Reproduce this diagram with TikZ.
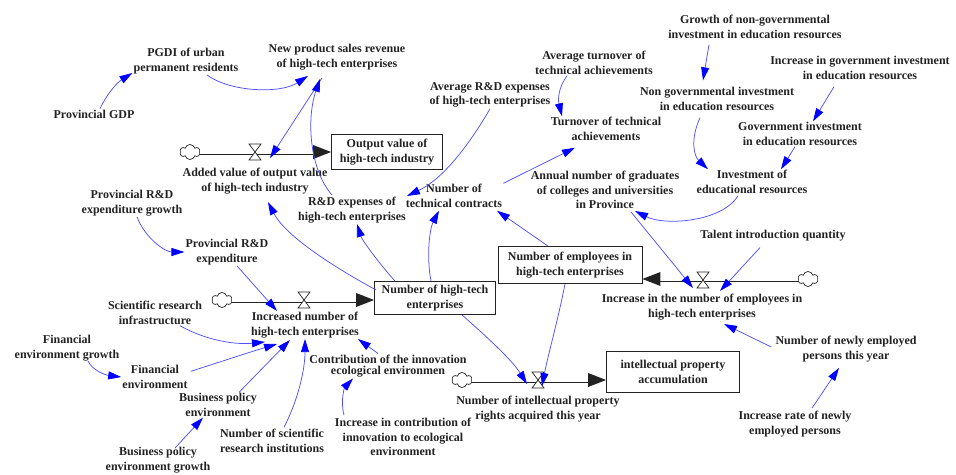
\documentclass[tikz,border=0pt]{standalone}
\usepackage{fontspec}
\setmainfont{Liberation Serif}
\usetikzlibrary{arrows.meta,calc,shapes.symbols}
\definecolor{lnk}{RGB}{80,80,250}
\definecolor{tipc}{RGB}{0,0,255}
\definecolor{txt}{RGB}{34,34,34}
\begin{document}
\begin{tikzpicture}[x=1pt,y=-1pt,
  lbl/.style={align=center,inner sep=1pt,text=txt,font=\fontsize{12}{14.5}\selectfont\bfseries},
  stockbox/.style={lbl,draw=txt,line width=0.8pt,fill=white,inner sep=3pt},
  link/.style={draw=lnk,line width=0.75pt,-{Triangle[length=13pt,width=8pt,color=tipc]}},
  pipe/.style={draw=txt,double=white,double distance=3.2pt,line width=0.9pt},
  src/.style={cloud,draw=txt,fill=white,cloud puffs=6,aspect=1.4,minimum width=20pt,minimum height=15pt,inner sep=0pt,line width=0.7pt},
  valve/.pic={\draw[txt,fill=white,line width=0.7pt] (-6,-8)--(6,-8)--(-6,8)--(6,8)--cycle;}
]
\useasboundingbox (0,0) rectangle (956,474);

% ---------- stocks ----------
\node[stockbox,minimum width=111pt,minimum height=35pt] (ovb) at (387,152) {Output value of\\high-tech industry};
\node[stockbox,minimum width=121pt,minimum height=33pt] (nht) at (435,298) {Number of high-tech\\enterprises};
\node[stockbox,minimum width=144pt,minimum height=37pt] (nem) at (570,265) {Number of employees in\\high-tech enterprises};
\node[stockbox,minimum width=133pt,minimum height=41pt] (ipa) at (673,372) {intellectual property\\accumulation};

% ---------- flows ----------
\node[src] (c1) at (190,152) {};
\coordinate (t1) at (c1.east -| ovb.west);
\draw[pipe] (c1.east) -- ($(t1)+(-16,0)$);
\fill[txt] (t1) -- ++(-18,-7) -- ++(0,14) -- cycle;
\pic at (255,152) {valve};

\node[src] (c2) at (222,300) {};
\coordinate (t2) at (c2.east -| nht.west);
\draw[pipe] (c2.east) -- ($(t2)+(-16,0)$);
\fill[txt] (t2) -- ++(-18,-7) -- ++(0,14) -- cycle;
\pic at (304,300) {valve};

\node[src] (c3) at (462,380) {};
\coordinate (t3) at (c3.east -| ipa.west);
\draw[pipe] (c3.east) -- ($(t3)+(-16,0)$);
\fill[txt] (t3) -- ++(-18,-7) -- ++(0,14) -- cycle;
\pic at (538,380) {valve};

\node[src] (c4) at (808,279) {};
\coordinate (t4) at (c4.west -| nem.east);
\draw[pipe] (c4.west) -- ($(t4)+(16,0)$);
\fill[txt] (t4) -- ++(18,-7) -- ++(0,14) -- cycle;
\pic at (703,280) {valve};

% ---------- variables ----------
\node[lbl] (pgdi) at (186,61) {PGDI of urban\\permanent residents};
\node[lbl] (nps) at (337,57) {New product sales revenue\\of high-tech enterprises};
\node[lbl] (gdp) at (94,114) {Provincial GDP};
\node[lbl] (addv) at (255,181) {Added value of output value\\of high-tech industry};
\node[lbl] (rde) at (352,210) {R\&D expenses of\\high-tech enterprises};
\node[lbl] (ard) at (490,95) {Average R\&D expenses\\of high-tech enterprises};
\node[lbl] (atu) at (594,63) {Average turnover of\\technical achievements};
\node[lbl] (tta) at (606,129) {Turnover of technical\\achievements};
\node[lbl] (gng) at (755,27) {Growth of non-governmental\\investment in education resources};
\node[lbl] (igi) at (860,68) {Increase in government investment\\in education resources};
\node[lbl] (ngi) at (717,99) {Non governmental investment\\in education resources};
\node[lbl] (gvi) at (800,134) {Government investment\\in education resources};
\node[lbl] (ier) at (752,182) {Investment of\\educational resources};
\node[lbl] (ang) at (605,190) {Annual number of graduates\\of colleges and universities\\in Province};
\node[lbl] (ntc) at (454,196) {Number of\\technical contracts};
\node[lbl] (rdg) at (132,203) {Provincial R\&D\\expenditure growth};
\node[lbl] (rdx) at (227,252) {Provincial R\&D\\expenditure};
\node[lbl] (inc) at (305,325) {Increased number of\\high-tech enterprises};
\node[lbl] (sri) at (155,313) {Scientific research\\infrastructure};
\node[lbl] (feg) at (67,348) {Financial\\environment growth};
\node[lbl] (fen) at (155,377) {Financial\\environment};
\node[lbl] (bpe) at (218,405) {Business policy\\environment};
\node[lbl] (bpg) at (158,460) {Business policy\\environment growth};
\node[lbl] (nsi) at (272,441) {Number of scientific\\research institutions};
\node[lbl,font=\fontsize{12}{11.5}\selectfont\bfseries] (cie) at (388,366) {Contribution of the innovation\\ecological environmen};
\node[lbl] (icc) at (403,437) {Increase in contribution of\\innovation to ecological\\environment};
\node[lbl] (nip) at (538,409) {Number of intellectual property\\rights acquired this year};
\node[lbl] (iem) at (702,307) {Increase in the number of employees in\\high-tech enterprises};
\node[lbl] (tiq) at (773,236) {Talent introduction quantity};
\node[lbl] (nne) at (846,349) {Number of newly employed\\persons this year};
\node[lbl] (irn) at (795,424) {Increase rate of newly\\employed persons};

% ---------- connectors ----------
\draw[link] ($(gdp.north)+(6,0)$) .. controls (108,92) and (118,82) .. ($(pgdi.south west)+(0,-2)$);
\draw[link] ($(pgdi.south)+(21,0)$) .. controls (230,92) and (280,94) .. ($(nps.south)+(-29,5)$);
\draw[link] ($(nps.south)+(-15,7)$) -- ($(addv.north)+(15,-9)$);
\draw[link] ($(rde.north)+(-20,-1)$) .. controls (310,170) and (306,120) .. ($(nps.south)+(-17,8)$);
\draw[link] (ard.south) .. controls (472,140) and (445,178) .. (rde.north east);
\draw[link] ($(atu.south)+(-27,0)$) .. controls (558,88) and (558,100) .. ($(tta.north)+(-44,0)$);
\draw[link] (ntc.north east) -- ($(tta.south)+(-31,6)$);
\draw[link] ($(gng.south)+(-46,5)$) -- ($(ngi.north)+(-14,-6)$);
\draw[link] ($(igi.south)+(-26,6)$) -- ($(gvi.north)+(13,0)$);
\draw[link] ($(ngi.south)+(-17,6)$) .. controls (690,140) and (694,156) .. ($(ier.north)+(-44,0)$);
\draw[link] ($(gvi.south)+(-5,0)$) -- ($(ier.north)+(29,0)$);
\draw[link] ($(ier.south)+(-14,1)$) .. controls (722,222) and (665,226) .. ($(ang.south)+(30,1)$);
\draw[link] ($(ang.south)+(26,2)$) -- ($(iem.north)+(-9,-5)$);
\draw[link] ($(tiq.south)+(-13,5)$) -- ($(iem.north)+(18,-2)$);
\draw[link] ($(nne.west)+(-3,-2)$) -- ($(iem.south)+(22,3)$);
\draw[link] ($(irn.north)+(17,-2)$) -- ($(nne.south)+(-7,5)$);
\draw[link] ($(nem.north)+(-22,0)$) -- ($(ntc.south)+(43,2)$);
\draw[link] ($(nem.south)+(-5,0)$) .. controls (558,320) and (548,355) .. ($(nip.north)+(4,-9)$);
\draw[link] ($(nht.south)+(27,0)$) .. controls (488,338) and (512,360) .. ($(nip.north)+(-11,-11)$);
\draw[link] ($(nht.north)+(-4,0)$) .. controls (426,255) and (430,228) .. ($(ntc.south)+(-15,2)$);
\draw[link] ($(nht.north)+(-40,0)$) .. controls (378,262) and (362,240) .. ($(rde.south)+(5,0)$);
\draw[link] ($(nht.west)+(2,-8)$) .. controls (330,265) and (285,235) .. ($(addv.south)+(13,7)$);
\draw[link] ($(rdg.south)+(5,0)$) .. controls (145,238) and (165,252) .. (rdx.west);
\draw[link] ($(rdx.south)+(10,0)$) -- ($(inc.north)+(-28,0)$);
\draw[link] ($(sri.south)+(25,0)$) .. controls (205,340) and (235,345) .. ($(inc.south)+(-40,3)$);
\draw[link] ($(fen.north east)+(2,7)$) .. controls (220,362) and (250,352) .. ($(inc.south)+(-28,5)$);
\draw[link] ($(feg.south)+(21,-1)$) .. controls (92,370) and (105,375) .. (fen.west);
\draw[link] ($(bpe.north)+(21,0)$) -- ($(inc.south)+(-15,1)$);
\draw[link] ($(bpg.north)+(17,2)$) -- ($(bpe.south)+(-15,0)$);
\draw[link] ($(nsi.north)+(12,-1)$) .. controls (298,400) and (305,370) .. (inc.south);
\draw[link] ($(cie.north)+(-10,0)$) -- ($(inc.south east)+(-2,0)$);
\draw[link] ($(icc.north)+(-59,-2)$) .. controls (340,400) and (345,387) .. ($(cie.south)+(-35,0)$);
\end{tikzpicture}
\end{document}
